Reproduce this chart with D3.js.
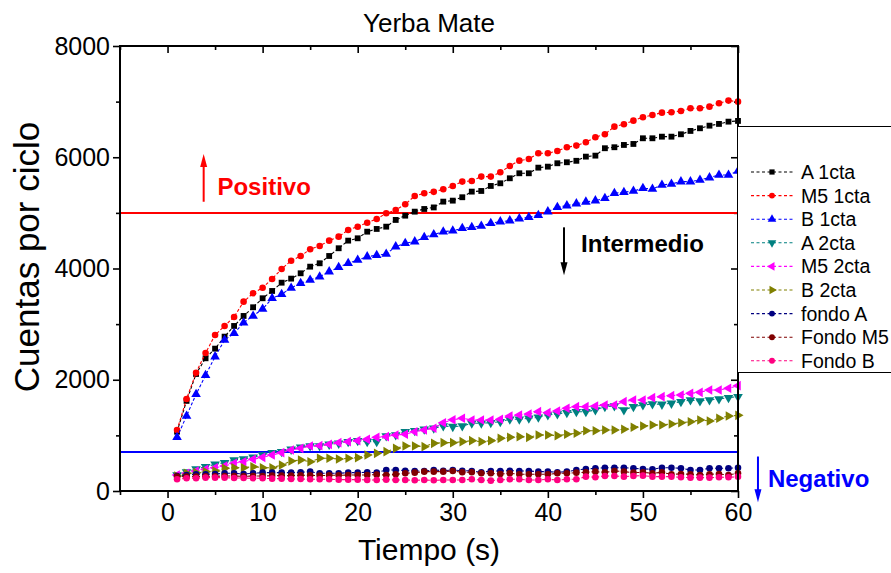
<!DOCTYPE html>
<html>
<head>
<meta charset="utf-8">
<script src="https://cdn.jsdelivr.net/npm/d3@7"></script>
<style>
  html, body { margin: 0; padding: 0; background: #fff; }
  svg { display: block; font-family: "Liberation Sans", Arial, sans-serif; }
</style>
</head>
<body>
<svg id="chart" width="891" height="573"></svg>
<script>
// Time axis: one reading per second
const tiempo = d3.range(1, 61);

// Counts per cycle for each sample
const a1cta = [1066,1620,2104,2386,2559,2775,2967,3147,3303,3465,3596,3745,3818,3914,4033,4094,4225,4364,4501,4543,
  4662,4711,4752,4873,4950,5022,5070,5098,5202,5220,5281,5382,5394,5484,5532,5622,5712,5712,5813,5831,
  5892,5910,5936,6011,6029,6162,6180,6221,6239,6341,6341,6370,6370,6413,6473,6521,6568,6599,6640,6653];
const m51cta = [1097,1654,2127,2481,2805,2967,3129,3404,3555,3655,3812,3992,4140,4225,4346,4405,4501,4573,4693,4752,
  4824,4891,4993,5052,5155,5304,5353,5378,5425,5484,5562,5574,5652,5652,5730,5844,5939,5969,6072,6072,
  6113,6180,6209,6270,6359,6413,6550,6593,6658,6719,6760,6802,6809,6832,6881,6881,6910,6971,7018,7000];
const b1cta = [965,1349,1739,2081,2415,2715,2835,3026,3147,3272,3465,3537,3650,3734,3794,3853,3943,4022,4094,4153,
  4213,4238,4261,4393,4454,4483,4562,4612,4662,4680,4723,4741,4765,4813,4842,4860,4896,4921,4957,5022,
  5101,5130,5166,5197,5220,5262,5353,5371,5394,5442,5430,5502,5520,5562,5562,5592,5634,5682,5682,5754];
const a2cta = [288,340,395,437,480,509,557,575,605,647,689,707,749,785,809,809,839,857,887,905,
  887,887,989,1007,1066,1084,1109,1127,1169,1157,1169,1217,1217,1228,1246,1289,1289,1307,1325,1366,
  1384,1408,1426,1426,1456,1516,1528,1456,1516,1546,1564,1558,1576,1606,1636,1618,1636,1654,1678,1696];
const m52cta = [288,320,360,390,419,450,498,527,570,605,647,689,737,767,809,815,839,869,887,905,
  929,965,977,1007,1019,1066,1097,1127,1228,1280,1307,1277,1277,1277,1289,1349,1366,1384,1426,1408,
  1438,1487,1516,1516,1528,1546,1546,1606,1636,1636,1678,1696,1714,1726,1756,1774,1816,1816,1846,1894];
const b2cta = [270,318,330,348,360,408,419,419,437,419,419,468,539,557,527,588,588,575,588,599,
  647,677,707,767,809,809,797,857,869,869,887,905,887,905,947,965,977,965,1007,1007,
  995,1019,1037,1084,1084,1097,1097,1109,1145,1169,1187,1187,1205,1228,1246,1277,1259,1307,1349,1360];
const fondoA = [270,288,300,300,306,318,318,306,318,330,330,330,330,336,348,318,318,318,330,330,
  336,330,378,378,365,360,360,378,365,378,365,360,336,360,360,365,360,360,348,348,
  336,348,378,396,408,419,419,419,408,396,390,419,419,408,378,378,408,408,408,419];
const fondoM5 = [258,258,258,264,264,270,270,264,270,270,276,276,276,282,282,276,282,282,288,288,
  288,294,288,300,318,330,348,348,348,360,336,336,318,318,306,318,300,300,300,300,
  318,318,330,336,348,336,360,348,330,336,318,336,300,306,300,288,300,306,288,318];
const fondoB = [210,228,228,240,240,240,234,234,228,228,222,222,216,216,210,210,210,204,204,204,
  198,198,204,198,198,192,198,192,198,198,198,210,198,186,198,210,210,198,198,210,
  198,210,210,258,246,270,270,258,270,276,258,258,258,246,240,240,240,246,246,258];

const seriesNames = ["A 1cta","M5 1cta","B 1cta","A 2cta","M5 2cta","B 2cta","fondo A","Fondo M5","Fondo B"];
const seriesValues = [a1cta, m51cta, b1cta, a2cta, m52cta, b2cta, fondoA, fondoM5, fondoB];
const seriesColors = ["#000000","#ff0000","#0000ff","#008080","#ff00ff","#808000","#000080","#800000","#ff0080"];
// symbol type, rotation and area per series
const seriesSymbols = [
  [d3.symbolSquare, 0, 34], [d3.symbolCircle, 0, 34], [d3.symbolTriangle, 0, 40],
  [d3.symbolTriangle, 180, 40], [d3.symbolTriangle, -90, 40], [d3.symbolTriangle, 90, 40],
  [d3.symbolCircle, 0, 34], [d3.symbolCircle, 0, 34], [d3.symbolCircle, 0, 34]
];

const xTicks = [0, 10, 20, 30, 40, 50, 60];
const xMinor = [-5, 5, 15, 25, 35, 45, 55];
const yTicks = [0, 2000, 4000, 6000, 8000];
const yMinor = [1000, 3000, 5000, 7000];

// Threshold lines and annotations (data units)
const umbralPositivo = 5000;
const umbralNegativo = 700;
const anotaciones = [
  { text: "Positivo",   color: "#ff0000", ax: 3.8,  y0: 5200, y1: 6060, tx: 5.25, ty: 5320 },
  { text: "Intermedio", color: "#000000", ax: 41.7, y0: 4740, y1: 3880, tx: 43.5, ty: 4300 },
  { text: "Negativo",   color: "#0000ff", ax: 62.1, y0: 620,  y1: -200, tx: 63.15, ty: 70 }
];

const svg = d3.select("#chart");
const plot = { left: 120, right: 738, top: 46, bottom: 491 };

const x = d3.scaleLinear().domain([-5, 60]).range([plot.left, plot.right]);
const y = d3.scaleLinear().domain([0, 8000]).range([plot.bottom, plot.top]);

const tickFont = "25px";

// Axes: outward ticks on bottom/left, inward mirror ticks on top/right
function styleAxis(g) {
  g.select(".domain").remove();
  g.selectAll(".tick line").attr("stroke", "#000").attr("stroke-width", 1.6);
  g.selectAll(".tick text").attr("fill", "#000").style("font-size", tickFont)
    .style("font-family", "'Liberation Sans', Arial, sans-serif");
}
svg.append("g").attr("transform", `translate(0,${plot.bottom})`)
  .call(d3.axisBottom(x).tickValues(xTicks).tickSize(7).tickPadding(5).tickFormat(d3.format("d")))
  .call(styleAxis);
svg.append("g").attr("transform", `translate(0,${plot.bottom})`)
  .call(d3.axisBottom(x).tickValues(xMinor).tickSize(4).tickFormat(""))
  .call(styleAxis);
svg.append("g").attr("transform", `translate(0,${plot.top})`)
  .call(d3.axisTop(x).tickValues(xTicks).tickSize(-7).tickFormat(""))
  .call(styleAxis);
svg.append("g").attr("transform", `translate(0,${plot.top})`)
  .call(d3.axisTop(x).tickValues(xMinor).tickSize(-4).tickFormat(""))
  .call(styleAxis);
svg.append("g").attr("transform", `translate(${plot.left},0)`)
  .call(d3.axisLeft(y).tickValues(yTicks).tickSize(7).tickPadding(3).tickFormat(d3.format("d")))
  .call(styleAxis);
svg.append("g").attr("transform", `translate(${plot.left},0)`)
  .call(d3.axisLeft(y).tickValues(yMinor).tickSize(4).tickFormat(""))
  .call(styleAxis);
svg.append("g").attr("transform", `translate(${plot.right},0)`)
  .call(d3.axisRight(y).tickValues(yTicks).tickSize(-7).tickFormat(""))
  .call(styleAxis);
svg.append("g").attr("transform", `translate(${plot.right},0)`)
  .call(d3.axisRight(y).tickValues(yMinor).tickSize(-4).tickFormat(""))
  .call(styleAxis);

// Threshold lines
svg.append("line").attr("x1", plot.left).attr("x2", plot.right)
  .attr("y1", y(umbralPositivo)).attr("y2", y(umbralPositivo))
  .attr("stroke", "#ff0000").attr("stroke-width", 2);
svg.append("line").attr("x1", plot.left).attr("x2", plot.right)
  .attr("y1", y(umbralNegativo)).attr("y2", y(umbralNegativo))
  .attr("stroke", "#0000ff").attr("stroke-width", 2);

// Series: dashed lines with markers
const line = d3.line().x((d, i) => x(tiempo[i])).y(d => y(d));
seriesValues.forEach((vals, k) => {
  const g = svg.append("g");
  g.append("path").attr("d", line(vals)).attr("fill", "none")
    .attr("stroke", seriesColors[k]).attr("stroke-width", 1.1).attr("stroke-dasharray", "3,2");
  const [type, rot, size] = seriesSymbols[k];
  const sym = d3.symbol().type(type).size(size);
  g.selectAll("path.pt").data(vals).join("path").attr("class", "pt")
    .attr("d", sym)
    .attr("transform", (d, i) => `translate(${x(tiempo[i])},${y(d)}) rotate(${rot})`)
    .attr("fill", seriesColors[k]);
});

// Frame
svg.append("rect").attr("x", plot.left).attr("y", plot.top)
  .attr("width", plot.right - plot.left).attr("height", plot.bottom - plot.top)
  .attr("fill", "none").attr("stroke", "#000").attr("stroke-width", 2);

// Annotations with arrows
anotaciones.forEach(a => {
  const x0 = x(a.ax), ya = y(a.y0), yb = y(a.y1);
  const dir = yb < ya ? -1 : 1;
  svg.append("line").attr("x1", x0).attr("x2", x0).attr("y1", ya).attr("y2", yb - dir * 10)
    .attr("stroke", a.color).attr("stroke-width", 2);
  svg.append("path")
    .attr("d", `M${x0},${yb} L${x0 - 3.5},${yb - dir * 13} L${x0 + 3.5},${yb - dir * 13} Z`)
    .attr("fill", a.color);
  svg.append("text").attr("x", x(a.tx)).attr("y", y(a.ty)).text(a.text)
    .attr("fill", a.color).style("font-size", "24px").style("font-weight", "bold");
});

// Legend
const legend = svg.append("g");
legend.append("rect").attr("x", 737.5).attr("y", 126.5).attr("width", 200).attr("height", 246)
  .attr("fill", "#fff").attr("stroke", "#000").attr("stroke-width", 1);
seriesNames.forEach((name, k) => {
  const ly = 172 + k * 23.6;
  legend.append("line").attr("x1", 751).attr("x2", 793).attr("y1", ly).attr("y2", ly)
    .attr("stroke", seriesColors[k]).attr("stroke-width", 1.1).attr("stroke-dasharray", "3,2.5");
  const [type, rot, size] = seriesSymbols[k];
  legend.append("path").attr("d", d3.symbol().type(type).size(size * 0.8)())
    .attr("transform", `translate(772,${ly}) rotate(${rot})`).attr("fill", seriesColors[k]);
  legend.append("text").attr("x", 801).attr("y", ly + 7).text(name)
    .style("font-size", "19.5px").attr("fill", "#000");
});

// Titles
svg.append("text").attr("x", (plot.left + plot.right) / 2).attr("y", 32)
  .attr("text-anchor", "middle").style("font-size", "26px").text("Yerba Mate");
svg.append("text").attr("x", (plot.left + plot.right) / 2).attr("y", 560)
  .attr("text-anchor", "middle").style("font-size", "30px").text("Tiempo (s)");
svg.append("text").attr("transform", `translate(39,257) rotate(-90)`)
  .attr("text-anchor", "middle").style("font-size", "35px").text("Cuentas por ciclo");
</script>
</body>
</html>
